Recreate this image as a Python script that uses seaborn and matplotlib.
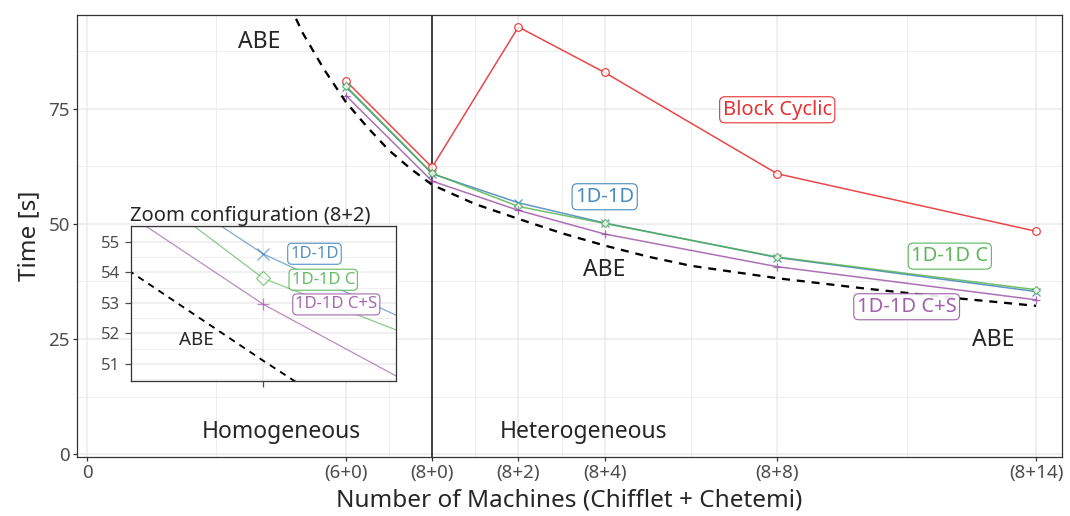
import matplotlib

matplotlib.use("Agg")
import matplotlib.pyplot as plt
import pandas as pd
import seaborn as sns

# machines: 6+0, 8+0, 8+2, 8+4, 8+8, 8+14
machines = [6, 8, 10, 12, 16, 22]
tick_pos = [0, 6, 8, 10, 12, 16, 22]
tick_labels = ["0", "(6+0)", "(8+0)", "(8+2)", "(8+4)", "(8+8)", "(8+14)"]

block_cyclic = [81.1, 62.3, 92.8, 82.9, 60.9, 48.4]
d1d1 = [79.8, 60.9, 54.6, 50.2, 42.7, 35.3]
d1d1_c = [80.0, 61.0, 53.8, 50.1, 42.8, 35.7]
d1d1_cs = [77.9, 59.3, 52.95, 47.8, 40.7, 33.5]

abe_x = [4.7, 5, 5.5, 6, 6.5, 7, 7.5, 8, 9, 10, 11, 12, 13, 14, 16, 18, 20, 22]
abe_y = [97.5, 91.5, 83.5, 76.5, 71.0, 66.0, 62.0, 58.5, 54.3, 51.1, 48.0,
         45.3, 42.9, 40.9, 38.2, 36.0, 34.0, 32.2]

series_names = ["Block Cyclic", "1D-1D", "1D-1D C", "1D-1D C+S"]
series_vals = [block_cyclic, d1d1, d1d1_c, d1d1_cs]

df = pd.DataFrame({
    "machines": machines * 4,
    "time": sum(series_vals, []),
    "algo": [n for n in series_names for _ in machines],
})
abe = pd.DataFrame({"machines": abe_x, "time": abe_y})

colors = {"Block Cyclic": "#e41a1c", "1D-1D": "#377eb8",
          "1D-1D C": "#4daf4a", "1D-1D C+S": "#984ea3"}
markers = {"Block Cyclic": "o", "1D-1D": "x", "1D-1D C": "D", "1D-1D C+S": "+"}
open_mk = {"Block Cyclic": True, "1D-1D": False, "1D-1D C": True, "1D-1D C+S": False}

sns.set_theme(style="whitegrid")
plt.rcParams["font.family"] = ["Noto Sans", "DejaVu Sans"]

GRID = "#ebebeb"
DARK = "#333333"


def draw_series(ax, lw, ms, alpha):
    for name in series_names:
        sub = df[df["algo"] == name]
        mk = markers[name]
        size = ms * (0.8 if mk == "D" else 1.0)
        sns.lineplot(data=sub, x="machines", y="time", ax=ax, color=colors[name],
                     lw=lw, alpha=alpha, marker=mk, markersize=size,
                     mfc="white" if open_mk[name] else colors[name],
                     mec=colors[name], mew=0.9, legend=False)
    sns.lineplot(data=abe, x="machines", y="time", ax=ax, color="black",
                 lw=lw * 1.5, linestyle=(0, (3.5, 3)), legend=False)


def style_axes(ax):
    ax.set_facecolor("white")
    ax.grid(which="major", color=GRID, lw=1.1)
    ax.grid(which="minor", color=GRID, lw=0.6)
    for s in ax.spines.values():
        s.set_color(DARK)
        s.set_linewidth(0.9)
    ax.tick_params(which="major", length=3, width=0.9, color=DARK,
                   colors="#4d4d4d", bottom=True, left=True)
    ax.tick_params(which="minor", length=0)


fig = plt.figure(figsize=(10.7, 5.16), dpi=100)
ax = fig.add_axes([0.072, 0.1143, 0.9205, 0.8567])

draw_series(ax, lw=1.1, ms=5.5, alpha=0.8)
ax.axvline(8, color=DARK, lw=1.3, zorder=1)

ax.set_xlim(-0.23, 22.6)
ax.set_ylim(-0.65, 95.4)
ax.set_xticks(tick_pos)
ax.set_xticklabels(tick_labels)
ax.set_xticks([3, 7, 9, 11, 14, 19], minor=True)
ax.set_yticks([0, 25, 50, 75])
ax.set_yticks([12.5, 37.5, 62.5, 87.5], minor=True)
style_axes(ax)
ax.tick_params(labelsize=13.5, pad=2)
ax.set_xlabel("Number of Machines (Chifflet + Chetemi)", fontsize=17.5, labelpad=5)
ax.set_ylabel("Time [s]", fontsize=17.5, labelpad=5)

lab_pos = {"Block Cyclic": (16.0, 74.8), "1D-1D": (12.0, 55.9),
           "1D-1D C": (20.0, 43.0), "1D-1D C+S": (19.0, 32.0)}
for name, (lx, ly) in lab_pos.items():
    ax.text(lx, ly, name, color=colors[name], fontsize=14.5, ha="center", va="center",
            alpha=0.9,
            bbox=dict(boxstyle="round,pad=0.15,rounding_size=0.25", fc="white",
                      ec=colors[name], lw=0.8, alpha=0.9))

for tx, ty in [(4.0, 89.6), (12.0, 40.0), (21.0, 24.8)]:
    ax.text(tx, ty, "ABE", fontsize=16.5, ha="center", va="center")
ax.text(4.5, 4.8, "Homogeneous", fontsize=16.5, ha="center", va="center")
ax.text(11.5, 4.8, "Heterogeneous", fontsize=16.5, ha="center", va="center")

# inset on configuration (8+2)
ins = fig.add_axes([0.1224, 0.2616, 0.2477, 0.3004])
draw_series(ins, lw=0.9, ms=9, alpha=0.65)
ins.set_xlim(9.09, 10.91)
ins.set_ylim(50.44, 55.52)
ins.set_xticks([10])
ins.set_xticklabels([""])
ins.set_yticks([51, 52, 53, 54, 55])
ins.set_yticks([50.5, 51.5, 52.5, 53.5, 54.5, 55.5], minor=True)
style_axes(ins)
ins.tick_params(labelsize=12, colors="#4d4d4d", length=4)
ins.set_xlabel("")
ins.set_ylabel("")
ins.set_title("Zoom configuration (8+2)", fontsize=14.5, loc="left", pad=2, x=-0.005)

ins_lab = {"1D-1D": (10.35, 54.61), "1D-1D C": (10.41, 53.76), "1D-1D C+S": (10.50, 52.95)}
for name, (lx, ly) in ins_lab.items():
    ins.text(lx, ly, name, color=colors[name], fontsize=12, ha="center", va="center",
             alpha=0.85,
             bbox=dict(boxstyle="round,pad=0.15,rounding_size=0.25", fc="white",
                       ec=colors[name], lw=0.8, alpha=0.85))
ins.text(9.54, 51.8, "ABE", fontsize=13.5, ha="center", va="center")

fig.savefig("out.png", dpi=100)
plt.close(fig)
